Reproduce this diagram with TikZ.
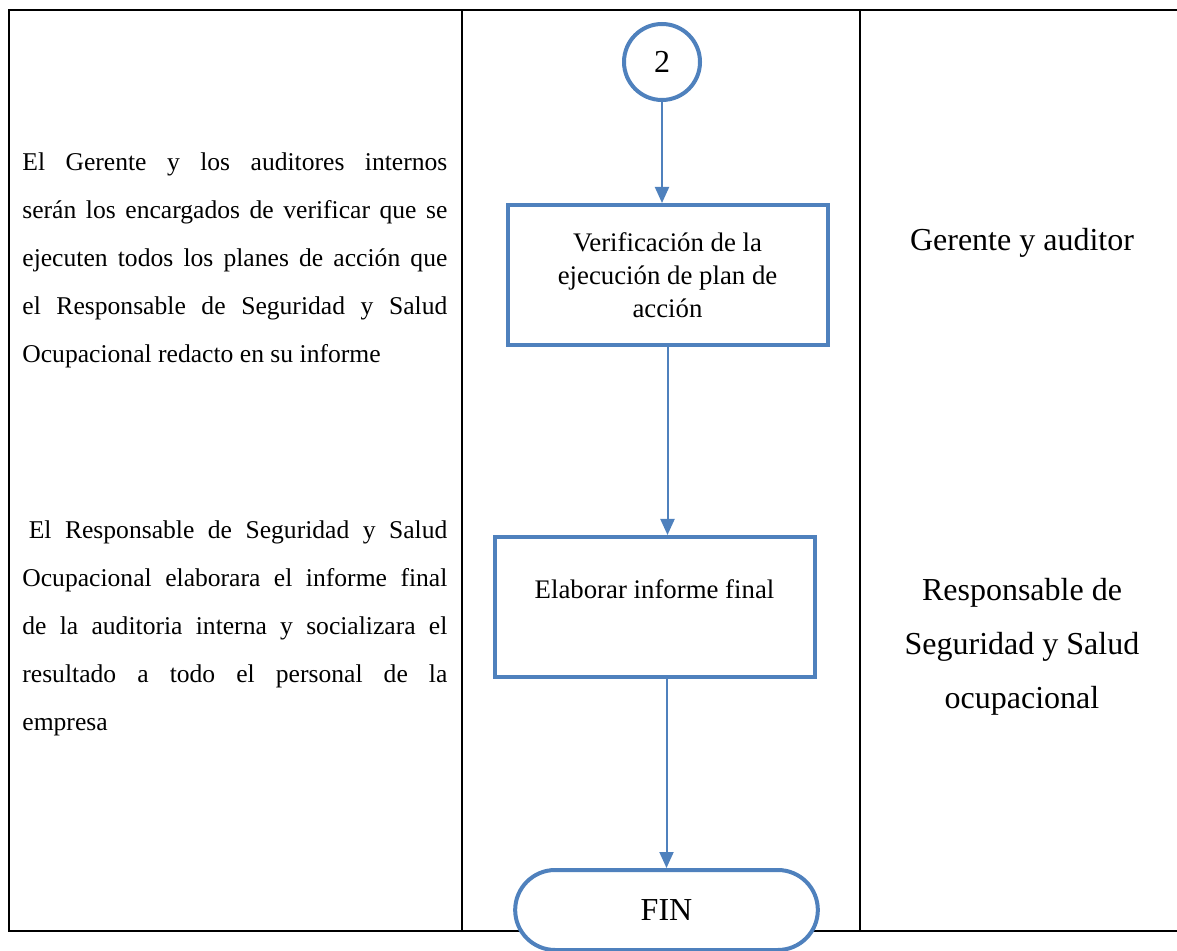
\documentclass[tikz,border=0pt]{standalone}
\usepackage{fontspec}
\setmainfont{Liberation Serif}
\usetikzlibrary{arrows.meta,shapes.misc}
\definecolor{flowblue}{RGB}{79,129,189}

\begin{document}
\begin{tikzpicture}[x=0.5pt,y=-0.5pt,
    procbox/.style={draw=flowblue,line width=2pt,fill=white,minimum width=160pt,
                    minimum height=70pt,align=center,font=\fontsize{13.4}{16.5}\selectfont},
    connector/.style={circle,draw=flowblue,line width=2pt,fill=white,minimum size=38pt,
                    inner sep=0pt,font=\fontsize{16}{18}\selectfont},
    endterm/.style={rounded rectangle,draw=flowblue,line width=2pt,fill=white,
                    minimum width=158pt,minimum height=40pt,font=\fontsize{16}{18}\selectfont},
    flow/.style={draw=flowblue,line width=1pt,-{Triangle[width=7pt,length=8pt]}},
    desc/.style={text width=212.5pt,align=justify,inner sep=0pt,anchor=west,
                 font=\fontsize{12.8}{24}\selectfont},
    resp/.style={align=center,inner sep=0pt,font=\fontsize{16}{27}\selectfont}]
  \useasboundingbox (0,0) rectangle (1177,951);
  % table frame and columns
  \draw[black,line width=1pt] (1177,10) -- (9,10) -- (9,931) -- (1177,931);
  \draw[black,line width=1pt] (462,10) -- (462,931);
  \draw[black,line width=1pt] (860,10) -- (860,931);

  % description column
  \node[desc] (txtA) at (22,260)
    {El Gerente y los auditores internos\linebreak
     serán los encargados de verificar que se\linebreak
     ejecuten todos los planes de acción que\linebreak
     el Responsable de Seguridad y Salud\linebreak
     Ocupacional redacto en su informe};
  \node[desc] (txtB) at (22,628)
    {\hspace*{0.25em}El Responsable de Seguridad y Salud\linebreak
     Ocupacional elaborara el informe final\linebreak
     de la auditoria interna y socializara el\linebreak
     resultado a todo el personal de la\linebreak
     empresa};

  % flow column
  \node[connector] (c2)    at (662,62)    {2};
  \node[procbox]   (verif) at (667.5,275) {Verificación de la\\ejecución de plan de\\acción};
  \node[procbox,text depth=18pt] (elab) at (654.5,607) {Elaborar informe final};
  \node[endterm]   (fin)   at (666.5,910) {FIN};
  \draw[flow] (c2) -- (c2 |- verif.north);
  \draw[flow] (verif.south) -- (verif.south |- elab.north);
  \draw[flow] (elab.south -| fin.north) -- (fin.north);

  % responsible column
  \node[resp] (respA) at (1022,243) {Gerente y auditor};
  \node[resp] (respB) at (1022,647) {Responsable de\\Seguridad y Salud\\ocupacional};
\end{tikzpicture}
\end{document}
